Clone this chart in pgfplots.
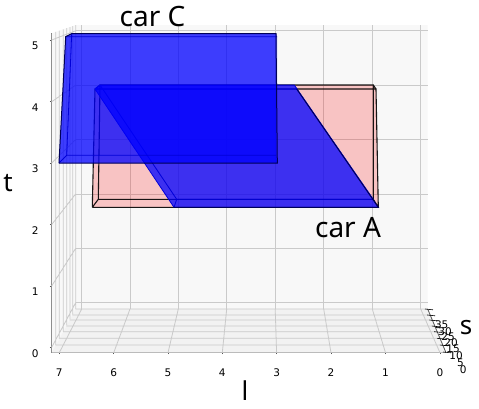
\documentclass[border=0pt]{standalone}
\usepackage{fontspec}
\setmainfont{Noto Sans}
\newfontfamily\tickfont{DejaVu Sans}
\usepackage{pgfplots}
\pgfplotsset{compat=1.18}
\definecolor{backpane}{HTML}{F8F8F8}
\definecolor{floorpane}{HTML}{F2F2F2}
\definecolor{gridgray}{HTML}{CACACA}
\definecolor{edgegray}{HTML}{555555}
\pgfplotsset{
  pane/.style={draw=none,fill=#1},
  gridl/.style={draw=gridgray,line width=0.8pt,unbounded coords=jump},
  pinkface/.style={draw=none,fill=red,fill opacity=0.11},
  pinkedge/.style={draw=black,line width=1.1pt,draw opacity=0.9},
  blueface/.style={draw=none,fill=blue,fill opacity=0.5},
  blueinner/.style={draw=blue!85!black,line width=0.8pt},
  blueouter/.style={draw=blue!35!black,line width=1pt},
}
\newcommand{\biglabel}{\fontsize{28}{28}\selectfont}
\newcommand{\axlabel}{\fontsize{26}{26}\selectfont}
\begin{document}
\begin{tikzpicture}
\useasboundingbox (-51.5pt,-55.3pt) rectangle (427.5pt,352.7pt);
\begin{axis}[
  at={(0,0)},anchor=south west,
  scale only axis,width=394.5pt,height=319.7pt,
  xmin=51.5,xmax=446,ymin=33,ymax=352.7,y dir=reverse,
  axis x line=bottom,axis y line=left,
  axis line style={-,draw=edgegray,line width=1.1pt},
  clip=false,
  xtick={59.3,113.7,168,222.3,276.6,331,385.5,440},
  xticklabels={7,6,5,4,3,2,1,0},
  ytick={40,101.7,163,224.5,285.9,347.3},
  yticklabels={5,4,3,2,1,0},
  tick align=center,major tick length=3pt,
  tick style={draw=edgegray,line width=0.6pt},
  every tick label/.append style={font=\tickfont\fontsize{10.5}{10.5}\selectfont},
  xticklabel style={yshift=-11pt},
  yticklabel style={yshift=-6pt,xshift=-8pt},
]
% panes
\addplot[pane=backpane] coordinates {(75.7,25)(427.7,25)(427.7,309)(75.7,309)(75.7,25)};
\addplot[pane=backpane] coordinates {(51.7,33.3)(75.7,25)(75.7,309)(51.7,352.7)(51.7,33.3)};
\addplot[pane=floorpane] coordinates {(51.7,352.7)(75.7,309)(427.7,309)(446,352.7)(51.7,352.7)};
% back wall grid
\addplot[gridl] coordinates {
  (81.7,25)(81.7,309)(0,nan)(130,25)(130,309)(0,nan)(178.3,25)(178.3,309)(0,nan)
  (226.7,25)(226.7,309)(0,nan)(275.2,25)(275.2,309)(0,nan)(323.7,25)(323.7,309)(0,nan)
  (372.3,25)(372.3,309)(0,nan)(420.7,25)(420.7,309)(0,nan)
  (75.7,30.7)(427.7,30.7)(0,nan)(75.7,85.1)(427.7,85.1)(0,nan)(75.7,139.5)(427.7,139.5)(0,nan)
  (75.7,193.9)(427.7,193.9)(0,nan)(75.7,248.3)(427.7,248.3)(0,nan)(75.7,302.7)(427.7,302.7)};
% left wall grid
\addplot[gridl] coordinates {
  (55.7,31.9)(55.7,345.4)(0,nan)(59.3,30.7)(59.3,338.9)(0,nan)(63.3,29.3)(63.3,331.6)(0,nan)
  (66.7,28.1)(66.7,325.4)(0,nan)(70,27)(70,319.4)(0,nan)(72.7,26)(72.7,314.5)(0,nan)
  (75.7,25)(75.7,309)(0,nan)
  (51.7,40)(75.7,30.7)(0,nan)(51.7,101.7)(75.7,85.1)(0,nan)(51.7,163)(75.7,139.5)(0,nan)
  (51.7,224.5)(75.7,193.9)(0,nan)(51.7,285.9)(75.7,248.3)(0,nan)(51.7,347.3)(75.7,302.7)};
% floor grid
\addplot[gridl] coordinates {
  (59.3,352.7)(81.7,309)(0,nan)(113.7,352.7)(130,309)(0,nan)(168,352.7)(178.3,309)(0,nan)
  (222.3,352.7)(226.7,309)(0,nan)(276.6,352.7)(275.2,309)(0,nan)(331,352.7)(323.7,309)(0,nan)
  (385.5,352.7)(372.3,309)(0,nan)(440,352.7)(420.7,309)(0,nan)
  (55.9,345)(442.8,345)(0,nan)(59.6,338.3)(440,338.3)(0,nan)(63.2,331.7)(437.2,331.7)(0,nan)
  (66.4,326)(434.8,326)(0,nan)(69.7,320)(432.3,320)(0,nan)(72.4,315)(430.2,315)(0,nan)
  (75.7,309)(427.7,309)};
% s axis
\addplot[draw=edgegray,line width=0.8pt] coordinates {(427.7,309)(446,352.7)};
\addplot[draw=black,line width=0.6pt,unbounded coords=jump] coordinates {
  (425,309)(433,309.8)(0,nan)(427.2,315)(435.2,315.8)(0,nan)(429.3,320)(437.3,320.8)(0,nan)
  (431.8,326)(439.8,326.8)(0,nan)(434.2,331.7)(442.2,332.5)(0,nan)(437,338.3)(445,339.1)(0,nan)
  (439.8,345)(447.8,345.8)(0,nan)(443,352)(451,352.8)};
% car A, pink
\addplot[pinkface] coordinates {(98.3,199.3)(373.3,199.3)(373.3,85)(100,85)(98.3,199.3)};
\addplot[pinkface] coordinates {(92.3,207.3)(378.3,207.3)(376,89)(95,89)(92.3,207.3)};
\addplot[pinkface] coordinates {(92.3,207.3)(95,89)(100,85)(98.3,199.3)(92.3,207.3)};
\addplot[pinkface] coordinates {(378.3,207.3)(376,89)(373.3,85)(373.3,199.3)(378.3,207.3)};
\addplot[pinkface] coordinates {(92.3,207.3)(98.3,199.3)(373.3,199.3)(378.3,207.3)(92.3,207.3)};
\addplot[pinkface] coordinates {(95,89)(100,85)(373.3,85)(376,89)(95,89)};
\addplot[pinkedge,unbounded coords=jump] coordinates {
  (92.3,207.3)(378.3,207.3)(376,89)(95,89)(92.3,207.3)(0,nan)
  (98.3,199.3)(373.3,199.3)(373.3,85)(100,85)(98.3,199.3)(0,nan)
  (92.3,207.3)(98.3,199.3)(0,nan)(378.3,207.3)(373.3,199.3)(0,nan)
  (376,89)(373.3,85)(0,nan)(95,89)(100,85)};
% car B, blue parallelogram
\addplot[blueface] coordinates {(100,85)(294.3,85)(373.3,199.3)(176.7,199.3)(100,85)};
\addplot[blueface] coordinates {(95,89)(296.7,89)(378.3,207.3)(174,207.3)(95,89)};
\addplot[blueface] coordinates {(95,89)(100,85)(176.7,199.3)(174,207.3)(95,89)};
\addplot[blueface] coordinates {(296.7,89)(294.3,85)(373.3,199.3)(378.3,207.3)(296.7,89)};
\addplot[blueface] coordinates {(174,207.3)(176.7,199.3)(373.3,199.3)(378.3,207.3)(174,207.3)};
\addplot[blueface] coordinates {(95,89)(100,85)(294.3,85)(296.7,89)(95,89)};
\addplot[blueinner,unbounded coords=jump] coordinates {
  (95,89)(296.7,89)(0,nan)(100,85)(294.3,85)(0,nan)(176.7,199.3)(373.3,199.3)(0,nan)
  (95,89)(174,207.3)(0,nan)(100,85)(176.7,199.3)(0,nan)(294.3,85)(373.3,199.3)(0,nan)
  (95,89)(100,85)(0,nan)(174,207.3)(176.7,199.3)};
\addplot[blueouter,unbounded coords=jump] coordinates {
  (174,207.3)(378.3,207.3)(296.7,89)};
% car C, blue rectangle
\addplot[blueface] coordinates {(71.7,33.7)(276,33.7)(276,155.3)(66.7,155.3)(71.7,33.7)};
\addplot[blueface] coordinates {(65.7,36.7)(277,36.7)(277.3,163)(59,163)(65.7,36.7)};
\addplot[blueface] coordinates {(65.7,36.7)(71.7,33.7)(66.7,155.3)(59,163)(65.7,36.7)};
\addplot[blueface] coordinates {(59,163)(66.7,155.3)(276,155.3)(277.3,163)(59,163)};
\addplot[blueface] coordinates {(65.7,36.7)(71.7,33.7)(276,33.7)(277,36.7)(65.7,36.7)};
\addplot[blueinner,unbounded coords=jump] coordinates {
  (65.7,36.7)(277,36.7)(0,nan)(71.7,33.7)(66.7,155.3)(276,155.3)(0,nan)(66.7,155.3)(59,163)};
\addplot[blueouter,unbounded coords=jump] coordinates {
  (59,163)(65.7,36.7)(71.7,33.7)(276,33.7)(277.3,163)(59,163)};
% text
\node[inner sep=0pt,font=\biglabel] at (axis cs:152.5,16) {car C};
\node[inner sep=0pt,font=\biglabel] at (axis cs:348,228) {car A};
\node[inner sep=0pt,font=\axlabel] at (axis cs:8,183) {t};
\node[inner sep=0pt,font=\axlabel] at (axis cs:466,328) {s};
\node[inner sep=0pt,font=\axlabel] at (axis cs:245,391) {l};
\foreach \sx/\sy/\sl in {441.7/325/35,445/331.5/30,448/337/25,451/343/20,453/349/15,456/356/10,460.5/363/5,463.3/370/0}{
  \edef\tmp{\noexpand\node[font=\noexpand\tickfont\noexpand\fontsize{10.5}{10.5}\noexpand\selectfont] at (axis cs:\sx,\sy) {\sl};}\tmp
}
\end{axis}
\end{tikzpicture}
\end{document}
